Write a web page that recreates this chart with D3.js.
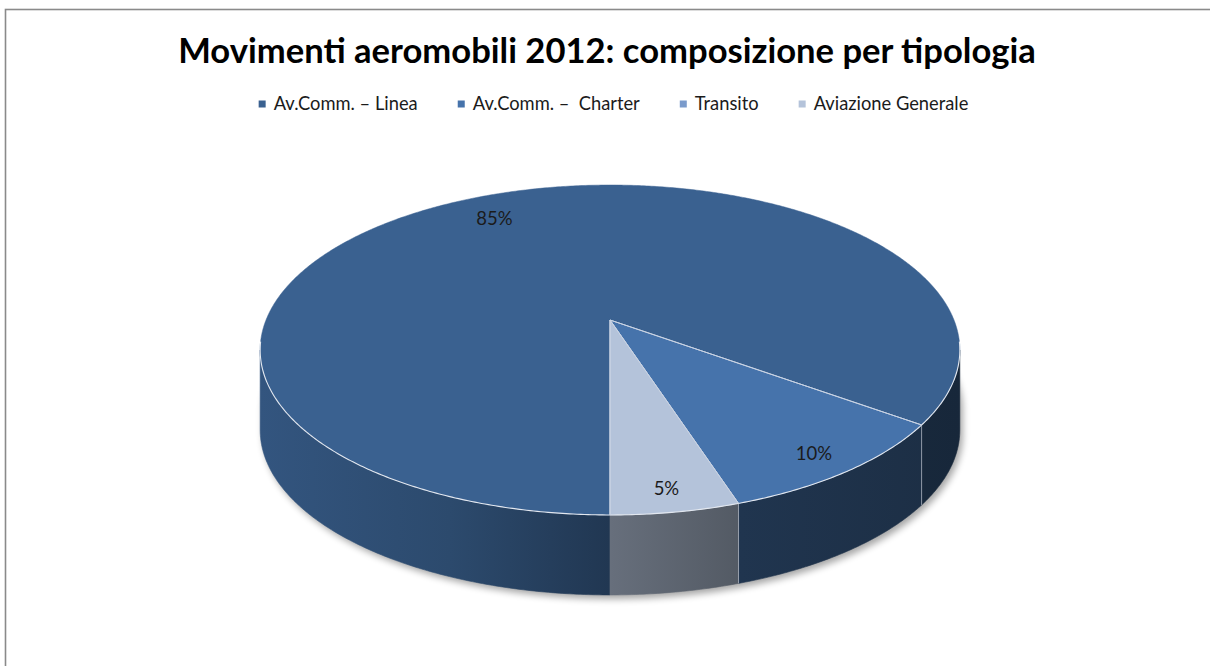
<!DOCTYPE html>
<html>
<head>
<meta charset="utf-8">
<script src="https://cdn.jsdelivr.net/npm/d3@7"></script>
<style>
  html, body { margin: 0; padding: 0; background: #fff; }
  svg { display: block; }
  text { font-family: Lato, "Open Sans", sans-serif; }
</style>
</head>
<body>
<svg id="chart" width="1210" height="666"></svg>
<script>
// ---- data ----
const categories = ["Av.Comm. \u2013 Linea", "Av.Comm. \u2013  Charter", "Transito", "Aviazione Generale"];
const shares = [85, 10, 0, 5];
const sliceColors = ["#3a6190", "#4673ab", "#7b9bcb", "#b4c3da"];
const titleText = "Movimenti aeromobili 2012: composizione per tipologia";

// ---- layout ----
const W = 1210, H = 666;
const svg = d3.select("#chart");

// chart frame
svg.append("rect")
  .attr("x", 5.5).attr("y", 9.5)
  .attr("width", W + 10).attr("height", H + 10)
  .attr("fill", "#fff")
  .attr("stroke", "#8a8a8a").attr("stroke-width", 1.6);

// perspective disk: apex (cx, cy), tilt, horizontal/vertical scale, wall height
const cx = 610, cy = 320, tilt = 0.1818, sx = 344, sy = 159.5, depth = 80;
function proj(theta, r = 1, dz = 0) {
  const u = r * Math.sin(theta), v = r * Math.cos(theta);
  const w = 1 + tilt * v;
  return [cx + sx * u / w, cy - sy * v / w + dz];
}
function arcPoints(a0, a1, dz = 0) {
  const n = Math.max(2, Math.ceil(Math.abs(a1 - a0) / (Math.PI / 360)));
  return d3.range(n + 1).map(i => proj(a0 + (a1 - a0) * i / n, 1, dz));
}
const line = d3.line();

// pie layout, first slice starting at 6 o'clock
const arcs = d3.pie().sort(null)
  .startAngle(Math.PI).endAngle(3 * Math.PI)(shares);

const defs = svg.append("defs");

// soft drop shadow under the disk
const blur = defs.append("filter").attr("id", "shadowBlur")
  .attr("x", "-10%").attr("y", "-10%").attr("width", "120%").attr("height", "130%");
blur.append("feGaussianBlur").attr("stdDeviation", 3.5);

const thetaR = Math.acos(-tilt);           // right silhouette angle
const thetaL = 2 * Math.PI - thetaR;       // left silhouette angle
const frontRanges = [[Math.PI, thetaL], [2 * Math.PI + thetaR, 3 * Math.PI]];

const shadowPts = arcPoints(thetaR, thetaL, depth + 4).map(p => [p[0] + 3, p[1]]);
const shadowTop = arcPoints(thetaL, thetaR + 2 * Math.PI, depth - 20).map(p => [p[0] + 3, p[1]]);
svg.append("path")
  .attr("d", line(shadowPts.concat(shadowTop)) + "Z")
  .attr("fill", "#000").attr("opacity", 0.35)
  .attr("filter", "url(#shadowBlur)");

// horizontal lighting on the side walls
const shadeX = [260, 450, 610, 740, 960];
const shadeK = [0.88, 0.76, 0.57, 0.46, 0.40];
arcs.forEach((d, i) => {
  const base = d3.rgb(sliceColors[i]);
  const g = defs.append("linearGradient").attr("id", "wall" + i)
    .attr("gradientUnits", "userSpaceOnUse")
    .attr("x1", shadeX[0]).attr("x2", shadeX[shadeX.length - 1]).attr("y1", 0).attr("y2", 0);
  shadeX.forEach((x, j) => {
    const k = shadeK[j];
    const c = d3.rgb(base.r * k, base.g * k, base.b * k);
    g.append("stop")
      .attr("offset", (x - shadeX[0]) / (shadeX[shadeX.length - 1] - shadeX[0]))
      .attr("stop-color", c.formatHex());
  });
});

// side walls (front half only)
const walls = svg.append("g");
arcs.forEach((d, i) => {
  frontRanges.forEach(([f0, f1]) => {
    const a0 = Math.max(d.startAngle, f0), a1 = Math.min(d.endAngle, f1);
    if (a1 - a0 <= 1e-6) return;
    const topPts = arcPoints(a0, a1, 0);
    const botPts = arcPoints(a1, a0, depth);
    walls.append("path")
      .attr("d", line(topPts.concat(botPts)) + "Z")
      .attr("fill", `url(#wall${i})`)
      .attr("stroke", `url(#wall${i})`).attr("stroke-width", 0.6);
  });
});

// vertical seams between slices on the wall
arcs.forEach(d => {
  const a = d.endAngle;
  const inFront = frontRanges.some(([f0, f1]) => a >= f0 && a <= f1);
  if (!inFront || d.endAngle - d.startAngle === 0) return;
  const p = proj(a, 1, 0);
  walls.append("line")
    .attr("x1", p[0]).attr("y1", p[1]).attr("x2", p[0]).attr("y2", p[1] + depth)
    .attr("stroke", "#a3abb8").attr("stroke-width", 1).attr("opacity", 0.85);
});

// top faces
const tops = svg.append("g");
arcs.forEach((d, i) => {
  if (d.endAngle - d.startAngle === 0) return;
  const pts = [[cx, cy]].concat(arcPoints(d.startAngle, d.endAngle, 0));
  tops.append("path")
    .attr("d", line(pts) + "Z")
    .attr("fill", sliceColors[i])
    .attr("stroke", sliceColors[i]).attr("stroke-width", 0.5);
});

// light rim along the front edge of the top face
tops.append("path")
  .attr("d", line(arcPoints(thetaR - 0.05, thetaL + 0.05, 0)))
  .attr("fill", "none").attr("stroke", "#e2e7ef").attr("stroke-width", 1.1);

// radial seams on the top face
arcs.forEach(d => {
  if (d.endAngle - d.startAngle === 0) return;
  [d.startAngle, d.endAngle].forEach(a => {
    const p = proj(a, 1, 0);
    tops.append("line")
      .attr("x1", cx).attr("y1", cy).attr("x2", p[0]).attr("y2", p[1])
      .attr("stroke", "#c9d3e3").attr("stroke-width", 1);
  });
});

// percentage labels
arcs.forEach((d, i) => {
  if (d.value === 0) return;
  const mid = (d.startAngle + d.endAngle) / 2;
  const e = proj(mid, 1, 0);
  const x = cx + 0.86 * (e[0] - cx);
  const y = cy + 0.86 * (e[1] - cy) + 10;
  svg.append("text")
    .attr("x", x).attr("y", y)
    .attr("text-anchor", "middle")
    .attr("font-size", 18.5)
    .attr("fill", "#1b1b1b")
    .text(d3.format(".0f")(d.value) + "%");
});

// title, sized to its measured span
const title = svg.append("text")
  .attr("x", 607).attr("y", 63)
  .attr("text-anchor", "middle")
  .attr("font-weight", 700)
  .attr("font-size", 30)
  .attr("fill", "#000")
  .text(titleText);
const tw = title.node().getComputedTextLength();
title.attr("font-size", 30 * 858 / tw);

// legend
const legend = svg.append("g");
const legendItems = categories.map(c =>
  legend.append("text")
    .attr("y", 110)
    .attr("font-size", 17)
    .attr("fill", "#1b1b1b")
    .style("white-space", "pre")
    .text(c));
// scale the legend font so the entries fill their measured span
const sumW = d3.sum(legendItems, t => t.node().getComputedTextLength());
const legendSize = 17 * 530 / sumW;
legendItems.forEach(t => t.attr("font-size", legendSize));
const widths = legendItems.map(t => t.node().getComputedTextLength());
const markerSize = 7, markerGap = 8, itemGap = 40;
const total = d3.sum(widths) + categories.length * (markerSize + markerGap) + itemGap * (categories.length - 1);
let lx = 613.5 - total / 2;
categories.forEach((c, i) => {
  legend.append("rect")
    .attr("x", lx).attr("y", 100.5)
    .attr("width", markerSize).attr("height", markerSize)
    .attr("fill", sliceColors[i]);
  legendItems[i].attr("x", lx + markerSize + markerGap);
  lx += markerSize + markerGap + widths[i] + itemGap;
});
</script>
</body>
</html>
